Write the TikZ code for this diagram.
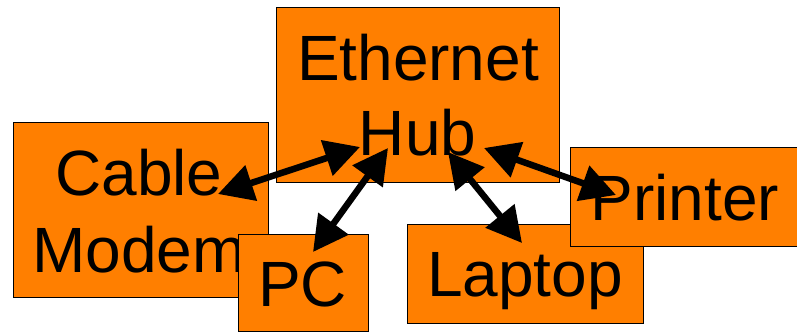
\documentclass[tikz,border=0pt]{standalone}
\usepackage{fontspec}
\setmainfont{Liberation Sans}
\usetikzlibrary{arrows.meta}
\definecolor{boxorange}{RGB}{255,127,0}
\tikzset{
  device/.style={draw=black, line width=1pt, fill=boxorange, rectangle, inner sep=0pt},
  lbl/.style={anchor=base, inner sep=0pt, font=\fontsize{64}{75}\selectfont},
  link/.style={line width=6.5pt, {Triangle[length=35pt,width=36pt]}-{Triangle[length=35pt,width=36pt]}}
}
\begin{document}
\begin{tikzpicture}[x=1pt,y=-1pt]
  \fill[white] (0,0) rectangle (797,332);
  \useasboundingbox (0,0) rectangle (797,332);

  % devices, back to front
  \node[device, minimum width=255pt, minimum height=175pt] (cable) at (140.5,209.5) {};
  \node[lbl] (cableA) at (139,195) {Cable};
  \node[lbl] (cableB) at (139,272) {Modem};

  \node[device, minimum width=283pt, minimum height=175pt] (hub) at (417.5,94.5) {};
  \node[lbl] (hubA) at (418,80) {Ethernet};
  \node[lbl] (hubB) at (417.5,155) {Hub};

  \node[device, minimum width=130pt, minimum height=97.5pt] (pc) at (303,282.75) {};
  \node[lbl] (pcA) at (302.5,306) {PC};

  \node[device, minimum width=236pt, minimum height=99pt] (laptop) at (525,273.5) {};
  \node[lbl] (laptopA) at (525,296) {Laptop};

  \node[device, minimum width=232pt, minimum height=99pt] (printer) at (686,196.5) {};
  \node[lbl] (printerA) at (685,220) {Printer};

  % links to the hub
  \draw[link] ([shift={(77.5,-15.5)}]cable.center) -- ([shift={(-57.5,52.5)}]hub.center);
  \draw[link] ([shift={(10,-30.75)}]pc.center) -- ([shift={(-29.5,53.5)}]hub.center);
  \draw[link] ([shift={(-3,-30.5)}]laptop.center) -- ([shift={(30.5,57.5)}]hub.center);
  \draw[link] ([shift={(-70,-1.5)}]printer.center) -- ([shift={(66.5,53.5)}]hub.center);
\end{tikzpicture}
\end{document}
